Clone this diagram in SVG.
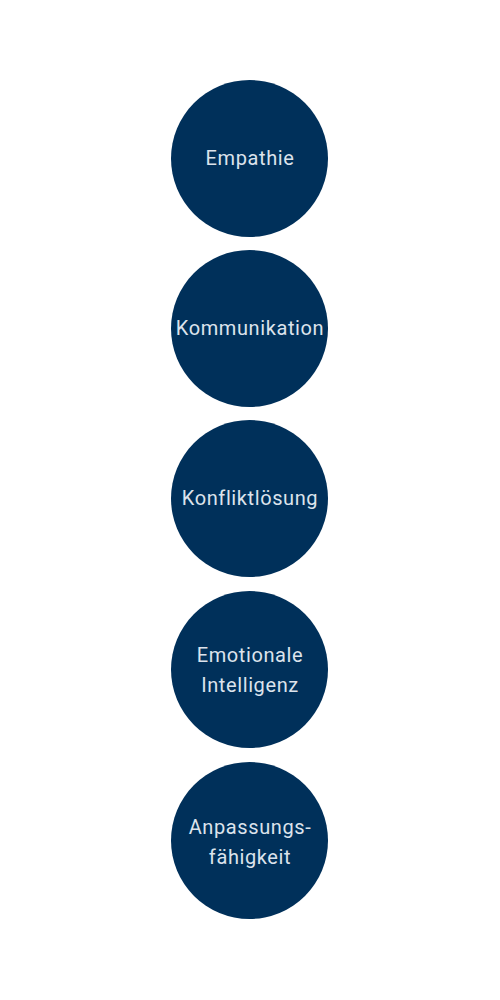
<svg xmlns="http://www.w3.org/2000/svg" width="500" height="1000" viewBox="0 0 500 1000">
<style>
.c{fill:#00305a}
.t{font-family:Roboto,"Liberation Sans",sans-serif;font-size:20px;fill:#dce3ec;text-anchor:middle;letter-spacing:0.6px}
</style>
<rect width="500" height="1000" fill="#ffffff"/>
<g id="connectors"></g>
<g id="n1"><circle class="c" cx="249.5" cy="158.5" r="78.5"/><text class="t" x="250" y="165">Empathie</text></g>
<g id="n2"><circle class="c" cx="249.5" cy="328.5" r="78.5"/><text class="t" x="250" y="335">Kommunikation</text></g>
<g id="n3"><circle class="c" cx="249.5" cy="498.5" r="78.5"/><text class="t" x="250" y="505">Konfliktlösung</text></g>
<g id="n4"><circle class="c" cx="249.5" cy="669.5" r="78.5"/><text class="t" x="250" y="662">Emotionale</text><text class="t" x="250" y="692">Intelligenz</text></g>
<g id="n5"><circle class="c" cx="249.5" cy="840.5" r="78.5"/><text class="t" x="250" y="834">Anpassungs-</text><text class="t" x="250" y="864">fähigkeit</text></g>
</svg>
